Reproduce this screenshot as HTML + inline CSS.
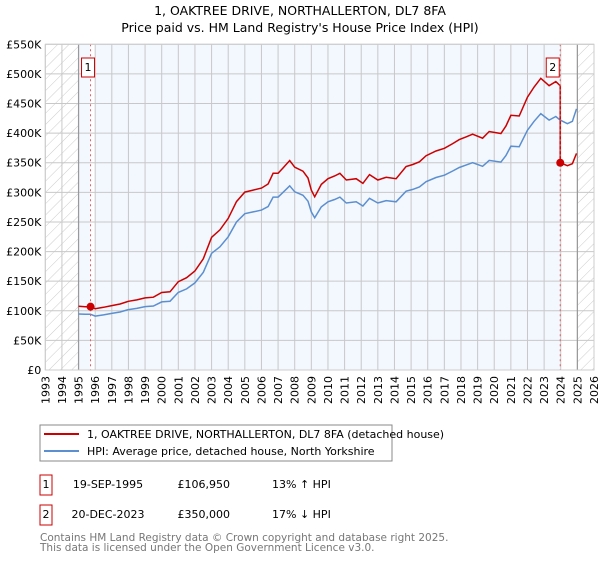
<!DOCTYPE html>
<html><head><meta charset="utf-8"><style>
body{margin:0;background:#fff;font-family:"Liberation Sans","DejaVu Sans",sans-serif;}
svg text{font-family:"DejaVu Sans","Liberation Sans",sans-serif;}
</style></head><body>
<svg id="chart" width="600" height="560" viewBox="0 0 600 560" xmlns="http://www.w3.org/2000/svg">
<defs><pattern id="hatch" patternUnits="userSpaceOnUse" width="8" height="8" patternTransform="rotate(45)"><line x1="0" y1="0" x2="0" y2="8" stroke="#ccc" stroke-width="1"/></pattern></defs>
<text x="300" y="15" text-anchor="middle" font-size="12.5">1, OAKTREE DRIVE, NORTHALLERTON, DL7 8FA</text>
<text x="300" y="32" text-anchor="middle" font-size="12.5">Price paid vs. HM Land Registry's House Price Index (HPI)</text>
<g id="plot"></g>
<g>
<rect x="40" y="425" width="352" height="36" fill="#fff" stroke="#888"/>
<line x1="44" y1="434" x2="79" y2="434" stroke="#cc0000" stroke-width="2"/>
<text x="87" y="438" font-size="11">1, OAKTREE DRIVE, NORTHALLERTON, DL7 8FA (detached house)</text>
<line x1="44" y1="451" x2="79" y2="451" stroke="#5b8fd0" stroke-width="2"/>
<text x="87" y="455" font-size="11">HPI: Average price, detached house, North Yorkshire</text>
</g>
<g font-size="11">
<rect x="40" y="475" width="12" height="20" fill="#fff" stroke="#cc0000"/>
<text x="46" y="488" text-anchor="middle">1</text>
<text x="108" y="488" text-anchor="middle">19-SEP-1995</text>
<text x="230" y="488" text-anchor="end">£106,950</text>
<text x="272" y="488">13% ↑ HPI</text>
<rect x="40" y="505" width="12" height="20" fill="#fff" stroke="#cc0000"/>
<text x="46" y="518" text-anchor="middle">2</text>
<text x="108" y="518" text-anchor="middle">20-DEC-2023</text>
<text x="230" y="518" text-anchor="end">£350,000</text>
<text x="272" y="518">17% ↓ HPI</text>
</g>
<text x="40" y="541" font-size="10.5" fill="#777">Contains HM Land Registry data © Crown copyright and database right 2025.</text>
<text x="40" y="551" font-size="10.5" fill="#777">This data is licensed under the Open Government Licence v3.0.</text>
</svg>
<script>
const hpiYears=[1995.0,1995.4,1995.72,1996.0,1996.5,1997.0,1997.5,1998.0,1998.5,1999.0,1999.5,2000.0,2000.5,2001.0,2001.5,2002.0,2002.5,2003.0,2003.5,2004.0,2004.5,2005.0,2005.5,2006.0,2006.4,2006.7,2007.0,2007.3,2007.7,2008.0,2008.5,2008.8,2009.0,2009.2,2009.6,2010.0,2010.4,2010.72,2011.1,2011.7,2012.1,2012.5,2013.0,2013.5,2014.1,2014.7,2015.1,2015.5,2015.9,2016.5,2017.0,2017.5,2017.9,2018.3,2018.7,2019.3,2019.7,2020.4,2020.7,2021.0,2021.5,2022.0,2022.4,2022.8,2023.3,2023.7,2023.97,2024.4,2024.7,2024.95];
const hpiValues=[94.5,94,94,91,93,95.6,98,102,104,107,108,115,116,131,137,147,165,197,208,225,250,264,267,270,276,292,292,300,311,301,295,285,267,257,275.5,284,288,292,282,284,277,290,282,286,284,302,305,309,318,325,329,336,342,346,350,344,354,351,362,378,377,405,420,433,422,428,422,416,420,441];
const saleYears=[1995.72,2023.97];
const salePrices=[106.95,350];
const saleLabels=["1","2"];
const yTicks=[0,50,100,150,200,250,300,350,400,450,500,550];
const xTicks=[1993,1994,1995,1996,1997,1998,1999,2000,2001,2002,2003,2004,2005,2006,2007,2008,2009,2010,2011,2012,2013,2014,2015,2016,2017,2018,2019,2020,2021,2022,2023,2024,2025,2026];
const X0=45.3,X1=594,Y0=370,Y1=44.3;
const xs=y=>X0+(y-1993)/(2026-1993)*(X1-X0);
const ys=v=>Y0-v/550*(Y0-Y1);
const NS="http://www.w3.org/2000/svg";
const g=document.getElementById('plot');
function mk(t,a,p){const e=document.createElementNS(NS,t);for(const k in a)e.setAttribute(k,a[k]);(p||g).appendChild(e);return e;}
let e=mk('rect',{x:X0,y:Y1,width:X1-X0,height:Y0-Y1,fill:'#f3f7fe'});


e=mk('rect',{x:X0,y:Y1,width:xs(1995)-X0,height:Y0-Y1,fill:'#fff'});


mk('rect',{x:X0,y:Y1,width:xs(1995)-X0,height:Y0-Y1,fill:'url(#hatch)'});
e=mk('rect',{x:xs(2025),y:Y1,width:X1-xs(2025),height:Y0-Y1,fill:'#fff'});


mk('rect',{x:xs(2025),y:Y1,width:X1-xs(2025),height:Y0-Y1,fill:'url(#hatch)'});
mk('rect',{x:xs(saleYears[0]),y:Y1,width:xs(1996)-xs(saleYears[0]),height:Y0-Y1,fill:'#fff'});
mk('rect',{x:xs(saleYears[1]),y:Y1,width:xs(2025)-xs(saleYears[1]),height:Y0-Y1,fill:'#fff'});
mk('rect',{x:xs(1996),y:Y1,width:xs(saleYears[1])-xs(1996),height:Y0-Y1,fill:'#f3f7fe'});
for(const t of xTicks){e=mk('line',{x1:xs(t),x2:xs(t),y1:Y1,y2:Y0,stroke:'#c8c8c8','stroke-width':1});


e=mk('text',{x:0,y:0,'font-size':11,'text-anchor':'end',transform:`translate(${xs(t)+4},${Y0+6}) rotate(-90)`});e.textContent=t;

}
for(const t of yTicks){e=mk('line',{x1:X0,x2:X1,y1:ys(t),y2:ys(t),stroke:'#c8c8c8','stroke-width':1});


e=mk('text',{x:X0-4,y:ys(t)+4,'font-size':11,'text-anchor':'end'});e.textContent='£'+(t?t+'K':'0');

}
for(const sx of [xs(1995),xs(2025)]){mk('line',{x1:sx,x2:sx,y1:Y1,y2:Y0,stroke:'#999','stroke-width':1.2});}
function interp(yr){for(let i=1;i<hpiYears.length;i++){if(yr<=hpiYears[i]){const f=(yr-hpiYears[i-1])/(hpiYears[i]-hpiYears[i-1]);return hpiValues[i-1]+f*(hpiValues[i]-hpiValues[i-1]);}}return hpiValues[hpiValues.length-1];}
const r1=salePrices[0]/interp(saleYears[0]),r2=salePrices[1]/interp(saleYears[1]);
let bp='',rp='';
hpiYears.forEach((yr,i)=>{bp+=(i?'L':'M')+xs(yr).toFixed(1)+','+ys(hpiValues[i]).toFixed(1);});
hpiYears.forEach((yr,i)=>{if(yr<saleYears[1])rp+=(i?'L':'M')+xs(yr).toFixed(1)+','+ys(hpiValues[i]*r1).toFixed(1);});
rp+='L'+xs(saleYears[1]).toFixed(1)+','+ys(interp(saleYears[1])*r1).toFixed(1);
rp+='L'+xs(saleYears[1]).toFixed(1)+','+ys(salePrices[1]).toFixed(1);
hpiYears.forEach((yr,i)=>{if(yr>saleYears[1])rp+='L'+xs(yr).toFixed(1)+','+ys(hpiValues[i]*r2).toFixed(1);});
e=mk('path',{d:bp,fill:'none',stroke:'#5b8fd0','stroke-width':1.5});


e=mk('path',{d:rp,fill:'none',stroke:'#cc0000','stroke-width':1.5});


saleYears.forEach((yr,i)=>{
 e=mk('line',{x1:xs(yr),x2:xs(yr),y1:Y1,y2:Y0,stroke:'#e06060','stroke-width':1,'stroke-dasharray':'2,3'});
 
 
 e=mk('circle',{cx:xs(yr),cy:ys(salePrices[i]),r:4,fill:'#cc0000'});
 
 
 const bx=xs(yr)-10-(i?4:-1);
 e=mk('rect',{x:bx,y:58,width:13,height:19,fill:'#fff',stroke:'#cc0000'});
 
 
 e=mk('text',{x:bx+6.5,y:71,'font-size':11,'text-anchor':'middle'});e.textContent=saleLabels[i];
 
 
});
mk('rect',{x:X0,y:Y1,width:X1-X0,height:Y0-Y1,fill:'none',stroke:'#ccc'});
</script>
</body></html>
